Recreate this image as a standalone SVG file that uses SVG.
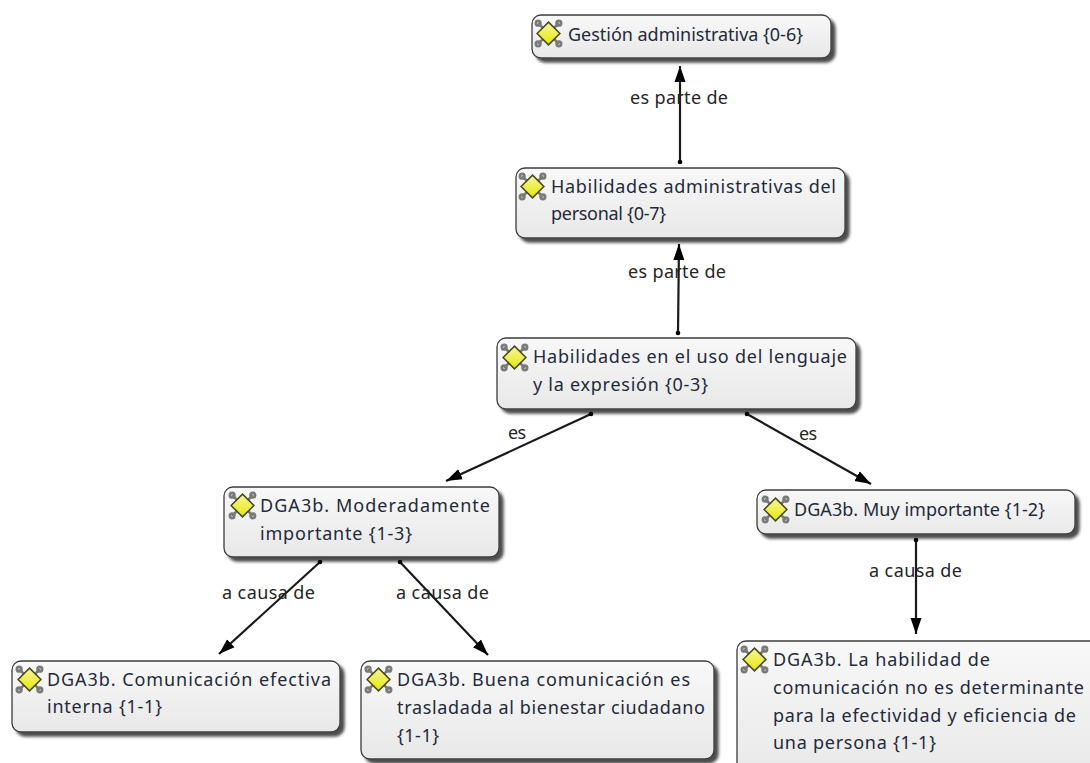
<svg xmlns="http://www.w3.org/2000/svg" width="1090" height="763" viewBox="0 0 1090 763">
<style>
text{font-family:"Noto Sans","Open Sans","Liberation Sans",sans-serif;font-size:18px;fill:#1f2a3a}
.l{fill:#262626}
.b{fill:url(#g);stroke:#3c3c3c;stroke-width:1.3;filter:url(#s)}
.c{stroke:#1a1a1a;stroke-width:2.2;fill:none;marker-end:url(#a);marker-start:url(#d)}
</style>
<defs>
<linearGradient id="g" x1="0" y1="0" x2="0" y2="1"><stop offset="0" stop-color="#f8f8f8"/><stop offset="1" stop-color="#e8e8e8"/></linearGradient>
<linearGradient id="y" x1="0" y1="0" x2="0" y2="1"><stop offset="0" stop-color="#f6f6a0"/><stop offset="1" stop-color="#e8e800"/></linearGradient>
<filter id="s" x="-5%" y="-10%" width="110%" height="130%"><feDropShadow dx="4" dy="4" stdDeviation="1.800" flood-color="#000" flood-opacity=".7"/></filter>
<marker id="a" markerUnits="userSpaceOnUse" markerWidth="17" markerHeight="12" refX="16" refY="6" orient="auto"><path d="M0 .5L16 6L0 11.500Z" fill="#000"/></marker>
<marker id="d" markerUnits="userSpaceOnUse" markerWidth="6" markerHeight="6" refX="3" refY="3"><circle cx="3" cy="3" r="2.300" fill="#000"/></marker>
<symbol id="i" viewBox="0 0 28 28" overflow="visible">
<g fill="none" stroke="#7a7a7a" stroke-width="2.600"><path d="M4 4L24 24M24 4L4 24"/><circle cx="4" cy="4" r="2.200"/><circle cx="24" cy="4" r="2.200"/><circle cx="4" cy="24" r="2.200"/><circle cx="24" cy="24" r="2.200"/></g>
<path d="M14 3L25 14L14 25L3 14Z" fill="url(#y)" stroke="#4a4a20" stroke-width="1.500"/>
</symbol>
</defs>
<g id="connectors">
<path class="c" d="M680 162L680 66"/>
<path class="c" d="M678 333L679 244"/>
<path class="c" d="M591 414L446 481"/>
<path class="c" d="M747 414L871 484"/>
<path class="c" d="M320 562L219 654"/>
<path class="c" d="M400 562L488 655"/>
<path class="c" d="M916 540L916 634"/>
</g>
<g id="labels">
<text class="l" x="630" y="104" textLength="98">es parte de</text>
<text class="l" x="628" y="278" textLength="98">es parte de</text>
<text class="l" x="508" y="439" textLength="18">es</text>
<text class="l" x="799" y="440" textLength="18">es</text>
<text class="l" x="222" y="599" textLength="93">a causa de</text>
<text class="l" x="396" y="599" textLength="93">a causa de</text>
<text class="l" x="869" y="577" textLength="93">a causa de</text>
</g>
<g id="n1"><rect class="b" x="532" y="15" width="299" height="43" rx="9"/><use href="#i" x="534" y="19" width="29" height="29"/><text x="568" y="41" textLength="235">Gestión administrativa {0-6}</text></g>
<g id="n2"><rect class="b" x="516" y="168" width="329" height="70" rx="9"/><use href="#i" x="518" y="172" width="29" height="29"/><text x="551" y="193" textLength="285">Habilidades administrativas del</text><text x="551" y="220" textLength="115">personal {0-7}</text></g>
<g id="n3"><rect class="b" x="497" y="338" width="359" height="71" rx="9"/><use href="#i" x="500" y="343" width="29" height="29"/><text x="533" y="363" textLength="314">Habilidades en el uso del lenguaje</text><text x="533" y="391" textLength="175">y la expresión {0-3}</text></g>
<g id="n4"><rect class="b" x="224" y="487" width="275" height="70" rx="9"/><use href="#i" x="228" y="491" width="29" height="29"/><text x="260" y="512" textLength="230">DGA3b. Moderadamente</text><text x="260" y="540" textLength="152">importante {1-3}</text></g>
<g id="n5"><rect class="b" x="757" y="490" width="318" height="44" rx="9"/><use href="#i" x="761" y="495" width="29" height="29"/><text x="794" y="516" textLength="251">DGA3b. Muy importante {1-2}</text></g>
<g id="n6"><rect class="b" x="12" y="661" width="328" height="71" rx="9"/><use href="#i" x="15" y="665" width="29" height="29"/><text x="47" y="686" textLength="284">DGA3b. Comunicación efectiva</text><text x="47" y="713" textLength="115">interna {1-1}</text></g>
<g id="n7"><rect class="b" x="361" y="661" width="353" height="98" rx="9"/><use href="#i" x="364" y="665" width="29" height="29"/><text x="397" y="686" textLength="293">DGA3b. Buena comunicación es</text><text x="397" y="714" textLength="308">trasladada al bienestar ciudadano</text><text x="397" y="742" textLength="42">{1-1}</text></g>
<g id="n8"><rect class="b" x="737" y="641" width="370" height="140" rx="9"/><use href="#i" x="740" y="645" width="29" height="29"/><text x="773" y="666" textLength="217">DGA3b. La habilidad de</text><text x="773" y="694" textLength="311">comunicación no es determinante</text><text x="773" y="722" textLength="303">para la efectividad y eficiencia de</text><text x="773" y="749" textLength="163">una persona {1-1}</text></g>
</svg>
